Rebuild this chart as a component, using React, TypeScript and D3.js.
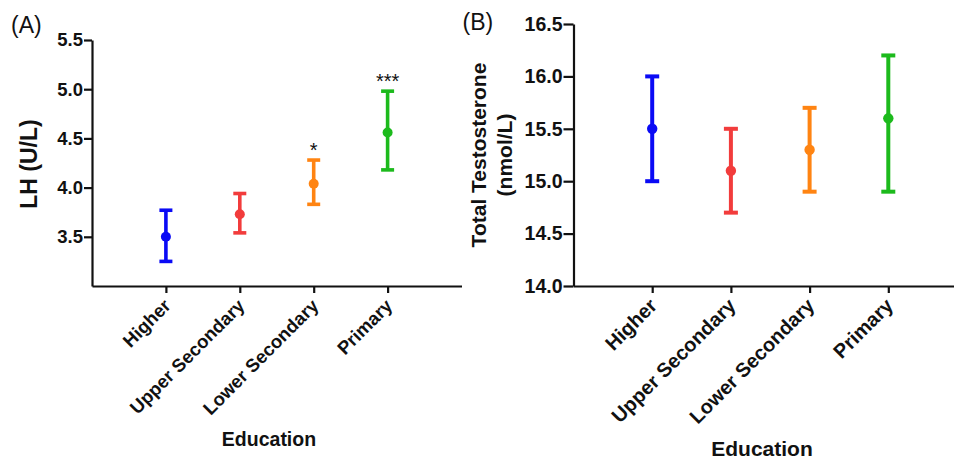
import React, { useEffect, useRef } from "react";
import * as d3 from "d3";

// education groups, same order in both panels
const categories = ["Higher", "Upper Secondary", "Lower Secondary", "Primary"];
const colors = ["#0a0af5", "#f23c3c", "#ff8412", "#1cba1c"];

// (A) LH, U/L
const lhMean = [3.5, 3.73, 4.04, 4.56];
const lhLow = [3.25, 3.54, 3.83, 4.18];
const lhHigh = [3.77, 3.94, 4.28, 4.98];
const lhStars = ["", "", "*", "***"];
const lhTicks = [3.5, 4.0, 4.5, 5.0, 5.5];

// (B) total testosterone, nmol/L
const ttMean = [15.5, 15.1, 15.3, 15.6];
const ttLow = [15.0, 14.7, 14.9, 14.9];
const ttHigh = [16.0, 15.5, 15.7, 16.2];
const ttStars = ["", "", "", ""];
const ttTicks = [14.0, 14.5, 15.0, 15.5, 16.0, 16.5];

const FONT = "'Liberation Sans', Arial, Helvetica, sans-serif";

function drawPanel(svg, p) {
  const g = svg.append("g");

  const x = d3.scalePoint().domain(categories).range([p.x0, p.x1]).padding(1);
  const y = d3.scaleLinear().domain(p.domain).range([p.yBottom, p.yTop]);

  // y axis
  const yAxis = g.append("g")
    .attr("transform", `translate(${p.x0},0)`)
    .call(d3.axisLeft(y).tickValues(p.ticks).tickFormat(d3.format(".1f")).tickSize(p.tickLen).tickSizeOuter(0).tickPadding(1));
  yAxis.select(".domain").attr("stroke", "#111").attr("stroke-width", 2.2);
  yAxis.selectAll(".tick line").attr("stroke", "#111").attr("stroke-width", 2.2);
  yAxis.selectAll(".tick text")
    .attr("font-family", FONT).attr("font-weight", "bold").attr("font-size", p.tickFont).attr("fill", "#111");

  // x axis
  const xAxis = g.append("g")
    .attr("transform", `translate(0,${p.yBottom})`)
    .call(d3.axisBottom(x).tickSize(7).tickSizeOuter(0).tickFormat(() => ""));
  xAxis.select(".domain").attr("stroke", "#111").attr("stroke-width", 2.2);
  xAxis.selectAll(".tick line").attr("stroke", "#111").attr("stroke-width", 2.2);

  // rotated category labels
  g.selectAll(".cat")
    .data(categories)
    .enter().append("text")
    .attr("class", "cat")
    .attr("transform", d => `translate(${x(d) + p.catDx},${p.yBottom + p.catDy}) rotate(-45)`)
    .attr("text-anchor", "end")
    .attr("font-family", FONT).attr("font-weight", "bold").attr("font-size", p.catFont).attr("fill", "#111")
    .text(d => d);

  // error bars
  const rows = categories.map((c, i) => ({
    c, mean: p.mean[i], lo: p.low[i], hi: p.high[i], color: colors[i], star: p.stars[i]
  }));

  const bars = g.selectAll(".bar").data(rows).enter().append("g").attr("class", "bar");
  bars.append("line")
    .attr("x1", d => x(d.c)).attr("x2", d => x(d.c))
    .attr("y1", d => y(d.lo)).attr("y2", d => y(d.hi))
    .attr("stroke", d => d.color).attr("stroke-width", p.barW);
  bars.append("line")
    .attr("x1", d => x(d.c) - p.cap / 2).attr("x2", d => x(d.c) + p.cap / 2)
    .attr("y1", d => y(d.hi)).attr("y2", d => y(d.hi))
    .attr("stroke", d => d.color).attr("stroke-width", p.barW);
  bars.append("line")
    .attr("x1", d => x(d.c) - p.cap / 2).attr("x2", d => x(d.c) + p.cap / 2)
    .attr("y1", d => y(d.lo)).attr("y2", d => y(d.lo))
    .attr("stroke", d => d.color).attr("stroke-width", p.barW);
  bars.append("circle")
    .attr("cx", d => x(d.c)).attr("cy", d => y(d.mean))
    .attr("r", p.dotR).attr("fill", d => d.color);

  // significance stars
  bars.filter(d => d.star !== "").append("text")
    .attr("x", d => x(d.c)).attr("y", d => y(d.hi) - 3)
    .attr("text-anchor", "middle")
    .attr("font-family", FONT).attr("font-size", 20).attr("fill", "#111")
    .text(d => d.star);

  // axis titles
  const yl = g.append("text")
    .attr("transform", `translate(${p.yLabelX},${p.yLabelY}) rotate(-90)`)
    .attr("text-anchor", "middle")
    .attr("font-family", FONT).attr("font-weight", "bold").attr("font-size", p.yLabelFont).attr("fill", "#111");
  p.yLabel.forEach((line, i) => {
    yl.append("tspan").attr("x", 0).attr("y", i * p.yLabelGap).text(line);
  });

  g.append("text")
    .attr("x", p.xLabelX).attr("y", p.xLabelY)
    .attr("text-anchor", "middle")
    .attr("font-family", FONT).attr("font-weight", "bold").attr("font-size", p.xLabelFont).attr("fill", "#111")
    .text("Education");

  g.append("text")
    .attr("x", p.tagX).attr("y", p.tagY)
    .attr("font-family", FONT).attr("font-size", 23).attr("fill", "#111")
    .text(p.tag);
}

export default function App() {
  const ref = useRef(null);

  useEffect(() => {
    document.body.style.margin = "0";
    const svg = d3.select(ref.current);
    svg.selectAll("*").remove();

    drawPanel(svg, {
      tag: "(A)", tagX: 11, tagY: 32.5,
      x0: 92, x1: 461.5, yTop: 40, yBottom: 286, domain: [3.0, 5.5], ticks: lhTicks,
      mean: lhMean, low: lhLow, high: lhHigh, stars: lhStars,
      tickLen: 8, tickFont: 18.5, catFont: 18.5, catDx: 6, catDy: 21,
      barW: 3.6, cap: 13, dotR: 5,
      yLabel: ["LH (U/L)"], yLabelX: 37, yLabelY: 164, yLabelFont: 23, yLabelGap: 0,
      xLabelX: 269, xLabelY: 445.5, xLabelFont: 19.5
    });

    drawPanel(svg, {
      tag: "(B)", tagX: 462.5, tagY: 30,
      x0: 573.5, x1: 967, yTop: 24, yBottom: 286, domain: [14.0, 16.5], ticks: ttTicks,
      mean: ttMean, low: ttLow, high: ttHigh, stars: ttStars,
      tickLen: 10, tickFont: 19.5, catFont: 20, catDx: 6, catDy: 21,
      barW: 4, cap: 14, dotR: 5.2,
      yLabel: ["Total Testosterone", "(nmol/L)"], yLabelX: 486, yLabelY: 155, yLabelFont: 21, yLabelGap: 25.6,
      xLabelX: 762, xLabelY: 455.5, xLabelFont: 21
    });
  }, []);

  return <svg ref={ref} width={954} height={458} style={{ display: "block", background: "#fff" }} />;
}
